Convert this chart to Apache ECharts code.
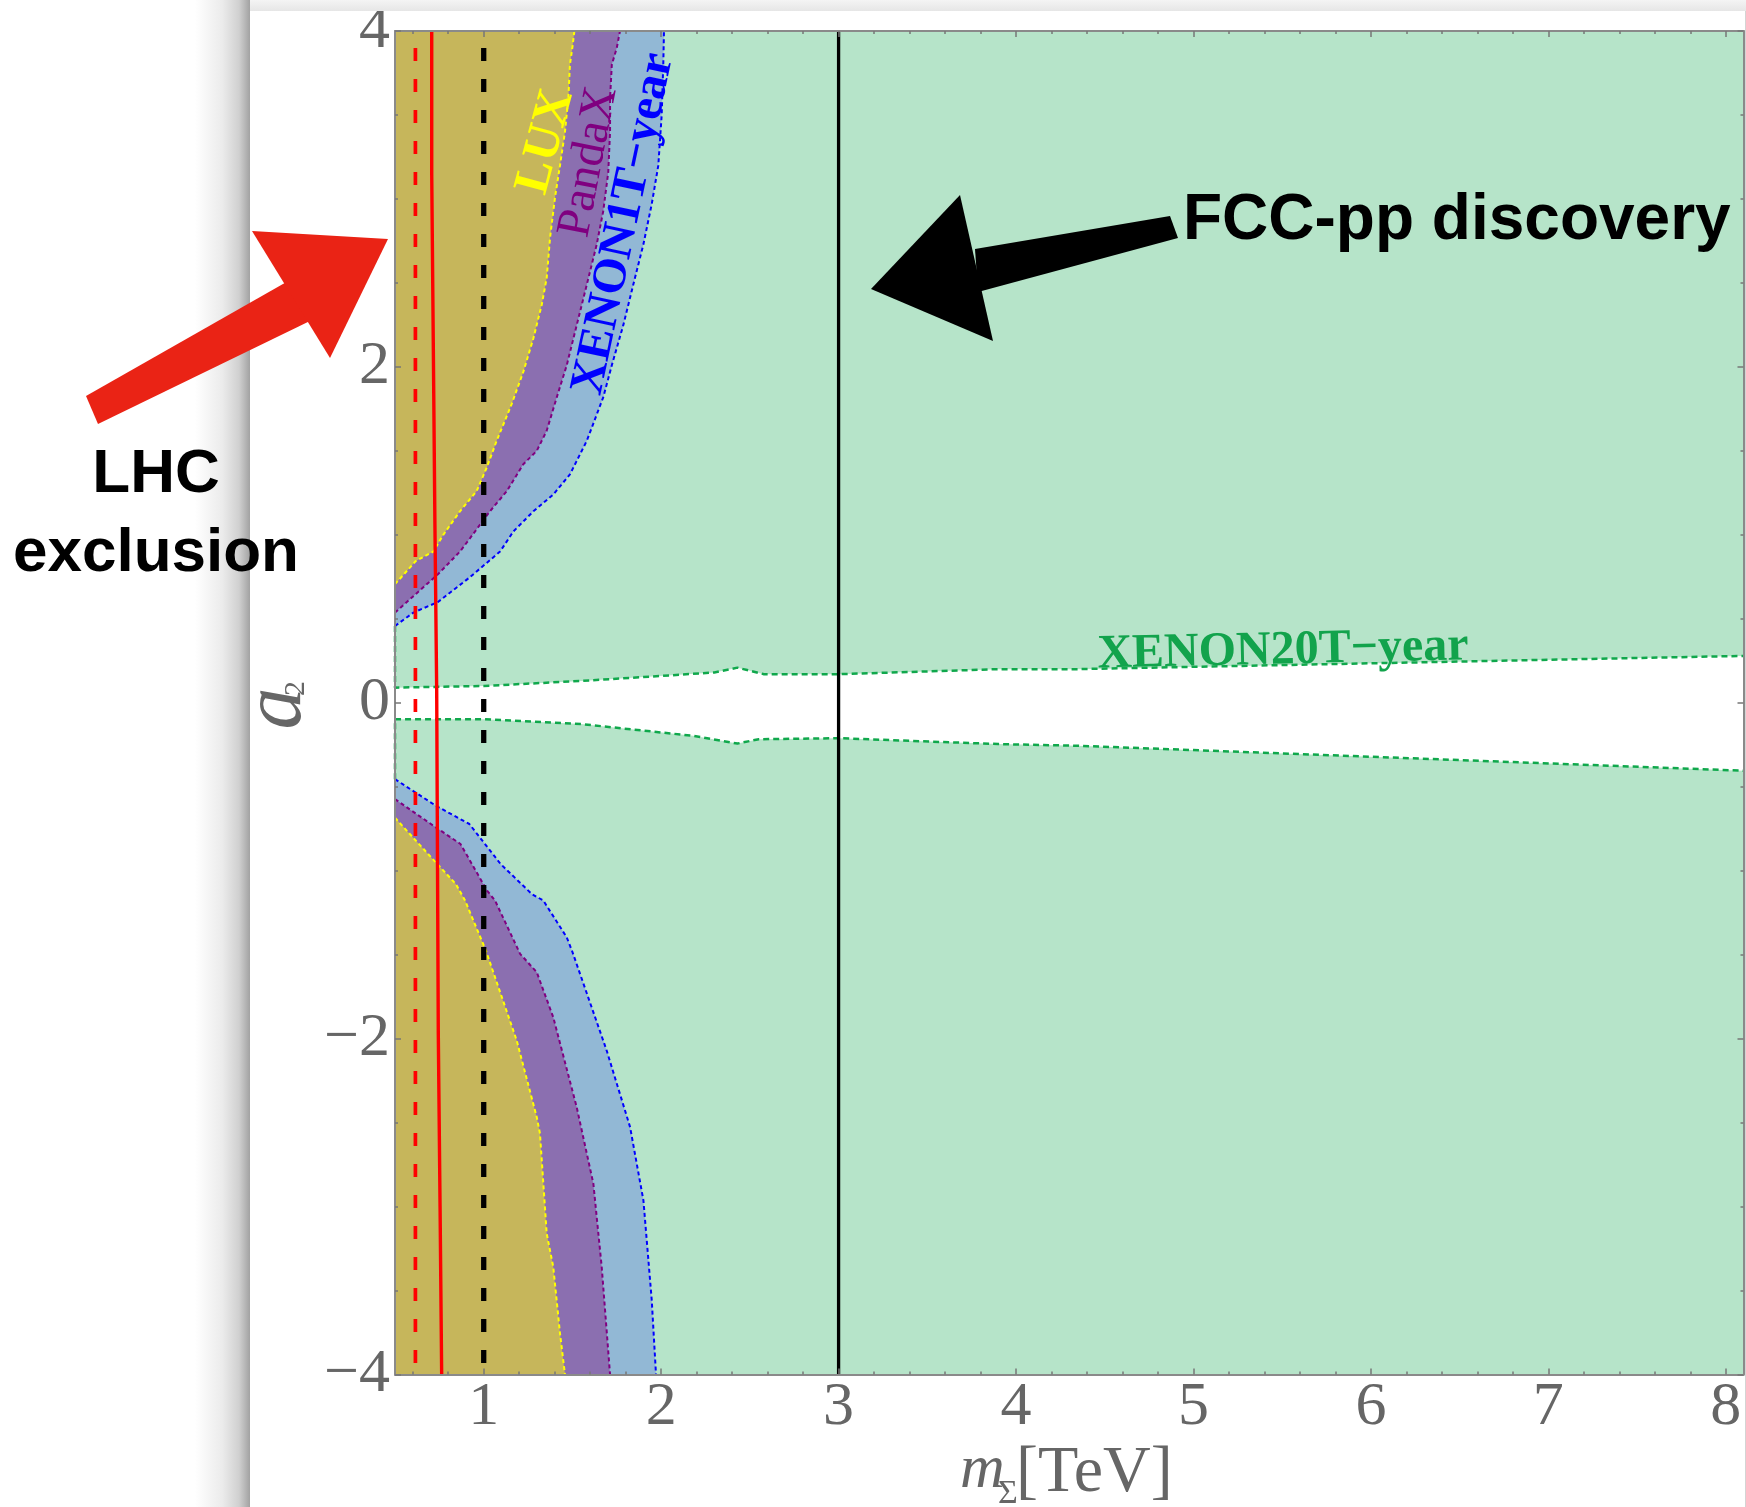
<!DOCTYPE html>
<html>
<head>
<meta charset="utf-8">
<script src="https://cdn.jsdelivr.net/npm/echarts@6/dist/echarts.min.js"></script>
<style>
  html, body { margin: 0; padding: 0; background: #ffffff; }
  #chart { width: 1746px; height: 1507px; }
</style>
</head>
<body>
<div id="chart"></div>
<script>
// ---- axis ranges and ticks ----
const xRange = [0.5, 8.1];            // m_Sigma [TeV]
const yRange = [-4, 4];               // a_2
const xTickLabels = [1, 2, 3, 4, 5, 6, 7, 8];
const xMinorTicks = [0.6, 0.8, 1.2, 1.4, 1.6, 1.8, 2.2, 2.4, 2.6, 2.8, 3.2, 3.4, 3.6, 3.8,
                     4.2, 4.4, 4.6, 4.8, 5.2, 5.4, 5.6, 5.8, 6.2, 6.4, 6.6, 6.8, 7.2, 7.4, 7.6, 7.8];
const yTickLabels = [-4, -2, 0, 2, 4];
const yMinorTicks = [-3.5, -3, -2.5, -1.5, -1, -0.5, 0.5, 1, 1.5, 2.5, 3, 3.5];

// ---- direct-detection exclusion contours, [m, a2] ----
const luxUpper = [[0.5, 0.706], [0.617, 0.844], [0.716, 0.90], [0.772, 1.00], [0.866, 1.14], [0.96, 1.26],
  [1.017, 1.40], [1.073, 1.56], [1.158, 1.78], [1.223, 1.97], [1.28, 2.17], [1.327, 2.37], [1.355, 2.53],
  [1.374, 2.77], [1.402, 3.01], [1.430, 3.20], [1.458, 3.40], [1.477, 3.60], [1.486, 3.80], [1.502, 3.92], [1.511, 4.0]];
const luxLower = [[0.5, -0.685], [0.73, -0.951], [0.843, -1.079], [0.895, -1.178], [1.012, -1.475], [1.186, -2.011],
  [1.299, -2.468], [1.317, -2.565], [1.336, -2.864], [1.355, -3.161], [1.392, -3.36], [1.43, -3.756], [1.458, -4.0]];

const pandaxUpper = [[0.5, 0.537], [0.742, 0.765], [0.866, 0.90], [0.923, 0.98], [1.035, 1.14], [1.13, 1.26],
  [1.223, 1.42], [1.299, 1.50], [1.355, 1.62], [1.412, 1.82], [1.468, 2.01], [1.515, 2.21], [1.581, 2.49],
  [1.637, 2.73], [1.674, 2.93], [1.702, 3.16], [1.712, 3.40], [1.712, 3.60], [1.722, 3.80], [1.75, 3.90], [1.768, 4.0]];
const pandaxLower = [[0.5, -0.574], [0.73, -0.742], [0.869, -0.841], [1.019, -1.119], [1.064, -1.178], [1.205, -1.495],
  [1.299, -1.605], [1.392, -1.873], [1.524, -2.408], [1.618, -2.864], [1.665, -3.36], [1.712, -4.0]];

const xenon1tUpper = [[0.5, 0.457], [0.604, 0.537], [0.742, 0.60], [0.919, 0.745], [1.092, 0.90], [1.167, 1.02],
  [1.28, 1.14], [1.392, 1.24], [1.486, 1.36], [1.581, 1.56], [1.674, 1.82], [1.722, 2.01], [1.787, 2.25],
  [1.843, 2.49], [1.90, 2.73], [1.947, 2.97], [1.984, 3.20], [2.003, 3.50], [2.012, 3.80], [2.016, 4.0]];
const xenon1tLower = [[0.5, -0.455], [0.73, -0.613], [0.919, -0.722], [1.095, -0.96], [1.271, -1.139], [1.336, -1.178],
  [1.468, -1.397], [1.498, -1.478], [1.693, -2.071], [1.825, -2.527], [1.90, -2.963], [1.947, -3.558], [1.971, -4.0]];

// XENON20T-year reach: the unexcluded band around a2 = 0
const xenon20tUpper = [[0.5, 0.457], [0.5, 0.09], [1.0, 0.10], [1.55, 0.13], [2.3, 0.18], [2.43, 0.209],
  [2.58, 0.17], [3.0, 0.17], [3.9, 0.20], [4.34, 0.20], [8.1, 0.279]];
const xenon20tLower = [[0.5, -0.455], [0.5, -0.098], [1.0, -0.098], [1.55, -0.127], [2.18, -0.197], [2.43, -0.243],
  [2.55, -0.217], [3.0, -0.211], [3.9, -0.246], [4.34, -0.256], [8.1, -0.405]];

// ---- collider mass limits ----
const lhcObserved = [[0.707, 4], [0.707, 3.146], [0.716, 3.146], [0.716, 2.113], [0.725, 2.113], [0.725, 1.06],
  [0.735, 1.06], [0.735, 0.07], [0.744, 0.07], [0.744, -1.97], [0.754, -1.97], [0.754, -3.0], [0.763, -3.0], [0.763, -4]];
const lhcExpectedMass = 0.615;
const hlLhcMass = 1.0;
const fccMass = 3.0;

// ---- styling ----
const FILL = { green: '#b6e4c9', blue: '#92b8d5', purple: '#8b6fb0', olive: '#c6b65b' };
const EDGE = { green: '#10a84c', blue: '#0000ff', purple: '#800080', olive: '#ffff00' };
const AXIS_GREY = '#8a8a8a';
const SERIF = '"Liberation Serif", "Times New Roman", serif';
const SANS = '"Liberation Sans", Arial, sans-serif';

function regionSeries(name, points, color, z) {
  return {
    name, type: 'custom', z, silent: true, animation: false,
    xAxisIndex: 0, yAxisIndex: 0, clip: true,
    data: [points[0]],
    renderItem: (params, api) => ({
      type: 'polygon',
      shape: { points: points.map(p => api.coord(p)) },
      style: { fill: color }
    })
  };
}

function lineSeries(name, data, color, width, dash, z, offset) {
  return {
    name, type: 'line', data, z, silent: true, animation: false,
    symbol: 'none', showSymbol: false, clip: true,
    lineStyle: { color, width, type: dash || 'solid', dashOffset: offset || 0, cap: 'butt' }
  };
}

const yTop = yRange[1], yBot = yRange[0], xLeft = xRange[0], xRight = xRange[1];

const series = [
  // XENON20T-year excluded area (above and below the open band)
  regionSeries('xenon20t-up', xenon20tUpper.concat([[xRight, yTop], [xLeft, yTop]]), FILL.green, 1),
  regionSeries('xenon20t-down', xenon20tLower.concat([[xRight, yBot], [xLeft, yBot]]), FILL.green, 1),
  // XENON1T-year
  regionSeries('xenon1t-up', xenon1tUpper.concat([[xLeft, yTop]]), FILL.blue, 2),
  regionSeries('xenon1t-down', xenon1tLower.concat([[xLeft, yBot]]), FILL.blue, 2),
  // PandaX
  regionSeries('pandax-up', pandaxUpper.concat([[xLeft, yTop]]), FILL.purple, 3),
  regionSeries('pandax-down', pandaxLower.concat([[xLeft, yBot]]), FILL.purple, 3),
  // LUX
  regionSeries('lux-up', luxUpper.concat([[xLeft, yTop]]), FILL.olive, 4),
  regionSeries('lux-down', luxLower.concat([[xLeft, yBot]]), FILL.olive, 4),

  // contour edges
  lineSeries('xenon20t-up-edge', xenon20tUpper, EDGE.green, 2.5, [6, 4], 5),
  lineSeries('xenon20t-down-edge', xenon20tLower, EDGE.green, 2.5, [6, 4], 5),
  lineSeries('xenon1t-up-edge', xenon1tUpper, EDGE.blue, 2, [4, 3], 6),
  lineSeries('xenon1t-down-edge', xenon1tLower, EDGE.blue, 2, [4, 3], 6),
  lineSeries('pandax-up-edge', pandaxUpper, EDGE.purple, 2, [4, 3], 6),
  lineSeries('pandax-down-edge', pandaxLower, EDGE.purple, 2, [4, 3], 6),
  lineSeries('lux-up-edge', luxUpper, EDGE.olive, 2, [4, 3], 6),
  lineSeries('lux-down-edge', luxLower, EDGE.olive, 2, [4, 3], 6),

  // mass reach lines
  lineSeries('lhc-expected', [[lhcExpectedMass, yTop], [lhcExpectedMass, yBot]], '#ff0000', 3.7, [13, 18], 8, 14),
  lineSeries('lhc-observed', lhcObserved, '#ff0000', 3.4, 'solid', 8),
  lineSeries('hl-lhc', [[hlLhcMass, yTop], [hlLhcMass, yBot]], '#000000', 5.3, [13, 18], 8, 14),
  lineSeries('fcc', [[fccMass, yTop], [fccMass, yBot]], '#000000', 3.3, 'solid', 8)
];

function minusFmt(v) { return v < 0 ? '\u2212' + (-v) : String(v); }

function axisDef(kind, position, labels, ticks, tickLen, showLine) {
  const range = kind === 'x' ? xRange : yRange;
  return {
    type: 'value', min: range[0], max: range[1], position, gridIndex: 0,
    axisLine: { show: showLine, onZero: false, lineStyle: { color: AXIS_GREY, width: 2 } },
    axisTick: { show: true, inside: true, length: tickLen, customValues: ticks, lineStyle: { color: '#777', width: 1.5 } },
    axisLabel: labels ? { show: true, customValues: labels, margin: kind === 'x' ? 2 : 5, color: '#666',
                          fontFamily: SERIF, fontSize: 62, formatter: minusFmt }
                      : { show: false },
    splitLine: { show: false }, minorTick: { show: false }, z: 20
  };
}

const option = {
  backgroundColor: '#ffffff',
  animation: false,
  grid: { left: 395, top: 29.5, width: 1348.5, height: 1345, containLabel: false },
  xAxis: [
    axisDef('x', 'bottom', xTickLabels, xTickLabels, 6, true),
    axisDef('x', 'bottom', null, xMinorTicks, 3, false),
    axisDef('x', 'top', null, xTickLabels, 6, true),
    axisDef('x', 'top', null, xMinorTicks, 3, false)
  ],
  yAxis: [
    axisDef('y', 'left', yTickLabels, yTickLabels, 6, true),
    axisDef('y', 'left', null, yMinorTicks, 3, false),
    axisDef('y', 'right', null, yTickLabels, 6, true),
    axisDef('y', 'right', null, yMinorTicks, 3, false)
  ],
  series,
  graphic: { elements: [
    // page shadow around the figure panel
    { type: 'rect', z: 5, silent: true, shape: { x: 195, y: 0, width: 55, height: 1507 },
      style: { fill: { type: 'linear', x: 0, y: 0, x2: 1, y2: 0, colorStops: [
        { offset: 0, color: '#ffffff' }, { offset: 0.5, color: '#ebebeb' }, { offset: 0.8, color: '#d0d0d0' }, { offset: 1, color: '#a2a2a2' }] } } },
    { type: 'rect', z: 100, silent: true, shape: { x: 250, y: 0, width: 1496, height: 11 },
      style: { fill: { type: 'linear', x: 0, y: 0, x2: 0, y2: 1, colorStops: [
        { offset: 0, color: '#f4f4f4' }, { offset: 1, color: '#e6e6e6' }] } } },
    { type: 'rect', z: 100, silent: true, shape: { x: 1745, y: 11, width: 1, height: 1496 }, style: { fill: '#d4d4d4' } },

    // contour labels
    { type: 'text', z: 50, silent: true, x: 546, y: 142, rotation: 75 * Math.PI / 180,
      style: { text: 'LUX', font: 'bold 50px ' + SERIF, fill: '#ffff00', align: 'center', verticalAlign: 'middle' } },
    { type: 'text', z: 50, silent: true, x: 589, y: 162, rotation: 79 * Math.PI / 180,
      style: { text: 'PandaX', font: '48px ' + SERIF, fill: '#800080', align: 'center', verticalAlign: 'middle' } },
    { type: 'text', z: 50, silent: true, x: 624, y: 224, rotation: 78 * Math.PI / 180,
      style: { text: 'XENON1T\u2212year', font: 'bold 48px ' + SERIF, fill: '#0000ff', align: 'center', verticalAlign: 'middle' } },
    { type: 'text', z: 50, silent: true, x: 1283, y: 651, rotation: 1.3 * Math.PI / 180,
      style: { text: 'XENON20T\u2212year', font: 'bold 48px ' + SERIF, fill: '#12a34c', align: 'center', verticalAlign: 'middle' } },

    // axis titles
    { type: 'text', z: 50, silent: true, x: 960, y: 1471, style: { text: 'm', font: 'italic 62px ' + SERIF, fill: '#666', align: 'left', verticalAlign: 'middle' } },
    { type: 'text', z: 50, silent: true, x: 998, y: 1494, style: { text: '\u03A3', font: '34px ' + SERIF, fill: '#666', align: 'left', verticalAlign: 'middle' } },
    { type: 'text', z: 50, silent: true, x: 1016, y: 1474, style: { text: '[TeV]', font: '66px ' + SERIF, fill: '#666', align: 'left', verticalAlign: 'middle' } },
    { type: 'group', z: 50, silent: true, x: 287, y: 702, rotation: Math.PI / 2, children: [
      { type: 'text', x: -27.5, y: -8.8, style: { text: 'a', font: 'italic 84px ' + SERIF, fill: '#666', align: 'left', verticalAlign: 'middle' } },
      { type: 'text', x: 6, y: 9.5, style: { text: '2', font: '30px ' + SERIF, fill: '#666', align: 'left', verticalAlign: 'middle' } }
    ] },

    // hand-drawn annotation: LHC exclusion
    { type: 'polygon', z: 60, silent: true, shape: { points: [[86, 396], [290, 280], [312, 320], [98, 424]] }, style: { fill: '#ea2315' } },
    { type: 'polygon', z: 60, silent: true, shape: { points: [[252, 231], [388, 239], [330, 358]] }, style: { fill: '#ea2315' } },
    { type: 'text', z: 60, silent: true, x: 156, y: 475, style: { text: 'LHC', font: 'bold 62px ' + SANS, fill: '#000', align: 'center', verticalAlign: 'middle' } },
    { type: 'text', z: 60, silent: true, x: 156, y: 554, style: { text: 'exclusion', font: 'bold 62px ' + SANS, fill: '#000', align: 'center', verticalAlign: 'middle' } },

    // hand-drawn annotation: FCC-pp discovery
    { type: 'polygon', z: 60, silent: true, shape: { points: [[975, 249], [1170, 216], [1178, 238], [978, 292]] }, style: { fill: '#000' } },
    { type: 'polygon', z: 60, silent: true, shape: { points: [[871, 289], [960, 195], [993, 341]] }, style: { fill: '#000' } },
    { type: 'text', z: 60, silent: true, x: 1183, y: 221, style: { text: 'FCC-pp discovery', font: 'bold 64px ' + SANS, fill: '#000', align: 'left', verticalAlign: 'middle' } }
  ] }
};

const chart = echarts.init(document.getElementById('chart'), null, { renderer: 'canvas' });
chart.setOption(option);
</script>
</body>
</html>
